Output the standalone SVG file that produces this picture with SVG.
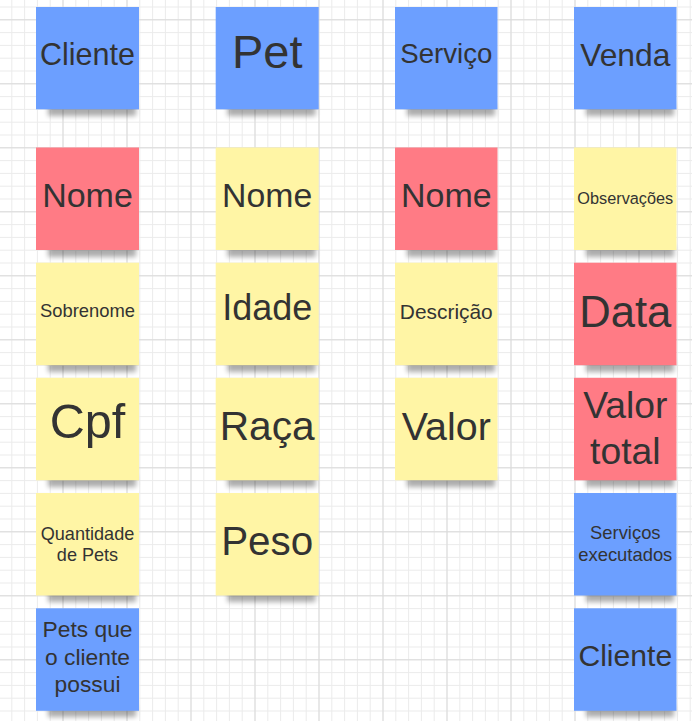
<svg xmlns="http://www.w3.org/2000/svg" width="692" height="721" viewBox="0 0 692 721">
<style>
.blue{fill:#6c9fff}
.red{fill:#ff7b85}
.yel{fill:#fff5a5}
.sh{fill:#000;opacity:0.32;filter:url(#blur)}
text{font-family:"Liberation Sans",Arial,sans-serif;fill:#333333;text-anchor:middle}
</style>
<defs>
<pattern id="minor" x="-1.5" y="6.5" width="12.8" height="12.8" patternUnits="userSpaceOnUse">
<path d="M0.5 0V12.8M0 0.5H12.8" stroke="#ebebeb" stroke-width="1" fill="none"/>
</pattern>
<pattern id="major" x="-1.5" y="19.3" width="64" height="64" patternUnits="userSpaceOnUse">
<path d="M0.5 0V64M0 0.5H64" stroke="#dadada" stroke-width="1" fill="none"/>
</pattern>
<filter id="blur" x="-20%" y="-50%" width="140%" height="200%"><feGaussianBlur stdDeviation="2.6"/></filter>
</defs>
<rect width="692" height="721" fill="#ffffff"/>
<rect width="692" height="721" fill="url(#minor)"/>
<rect width="692" height="721" fill="url(#major)"/>

<!-- Column 1 -->
<g id="cliente-header"><rect class="sh" x="48" y="104" width="88" height="12"/><rect class="blue" x="36" y="7" width="103" height="102.3"/><text x="87.5" y="65" font-size="30.5">Cliente</text></g>
<g id="cliente-nome"><rect class="sh" x="48" y="245" width="88" height="12"/><rect class="red" x="36" y="147.5" width="103" height="102.5"/><text x="87.5" y="207" font-size="34">Nome</text></g>
<g id="cliente-sobrenome"><rect class="sh" x="48" y="360" width="88" height="12"/><rect class="yel" x="36" y="262.7" width="103" height="102.5"/><text x="87.5" y="317" font-size="18.4">Sobrenome</text></g>
<g id="cliente-cpf"><rect class="sh" x="48" y="475" width="88" height="12"/><rect class="yel" x="36" y="377.8" width="103" height="102.5"/><text x="87.5" y="438" font-size="48.5">Cpf</text></g>
<g id="cliente-qtd"><rect class="sh" x="48" y="590" width="88" height="12"/><rect class="yel" x="36" y="493" width="103" height="102.5"/><text x="87.5" y="540" font-size="18.1">Quantidade</text><text x="87.5" y="561" font-size="18.1">de Pets</text></g>
<g id="cliente-pets"><rect class="sh" x="48" y="705" width="88" height="12"/><rect class="blue" x="36" y="608.3" width="103" height="102.5"/><text x="87.5" y="637" font-size="22.8">Pets que</text><text x="87.5" y="665" font-size="22.8">o cliente</text><text x="87.5" y="692" font-size="22.8">possui</text></g>

<!-- Column 2 -->
<g id="pet-header"><rect class="sh" x="227.5" y="104" width="88" height="12"/><rect class="blue" x="215.7" y="7" width="103" height="102.3"/><text x="267.2" y="68" font-size="47">Pet</text></g>
<g id="pet-nome"><rect class="sh" x="227.5" y="245" width="88" height="12"/><rect class="yel" x="215.7" y="147.5" width="103" height="102.5"/><text x="267.2" y="207" font-size="33.8">Nome</text></g>
<g id="pet-idade"><rect class="sh" x="227.5" y="360" width="88" height="12"/><rect class="yel" x="215.7" y="262.7" width="103" height="102.5"/><text x="267.2" y="320" font-size="36">Idade</text></g>
<g id="pet-raca"><rect class="sh" x="227.5" y="475" width="88" height="12"/><rect class="yel" x="215.7" y="377.8" width="103" height="102.5"/><text x="267.2" y="440" font-size="40.7">Raça</text></g>
<g id="pet-peso"><rect class="sh" x="227.5" y="590" width="88" height="12"/><rect class="yel" x="215.7" y="493" width="103" height="102.5"/><text x="267.2" y="555" font-size="40.4">Peso</text></g>

<!-- Column 3 -->
<g id="servico-header"><rect class="sh" x="407" y="104" width="88" height="12"/><rect class="blue" x="395" y="7" width="102.5" height="102.3"/><text x="446.3" y="62.5" font-size="27.6">Serviço</text></g>
<g id="servico-nome"><rect class="sh" x="407" y="245" width="88" height="12"/><rect class="red" x="395" y="147.5" width="102.5" height="102.5"/><text x="446.3" y="207" font-size="34">Nome</text></g>
<g id="servico-descricao"><rect class="sh" x="407" y="360" width="88" height="12"/><rect class="yel" x="395" y="262.7" width="102.5" height="102.5"/><text x="446.3" y="319" font-size="20.9">Descrição</text></g>
<g id="servico-valor"><rect class="sh" x="407" y="475" width="88" height="12"/><rect class="yel" x="395" y="377.8" width="102.5" height="102.5"/><text x="446.3" y="440" font-size="39.4">Valor</text></g>

<!-- Column 4 -->
<g id="venda-header"><rect class="sh" x="586" y="104" width="88" height="12"/><rect class="blue" x="574" y="7" width="102.5" height="102.3"/><text x="625.3" y="66" font-size="31.8">Venda</text></g>
<g id="venda-obs"><rect class="sh" x="586" y="245" width="88" height="12"/><rect class="yel" x="574" y="147.5" width="102.5" height="102.5"/><text x="625.3" y="203.5" font-size="16.3">Observações</text></g>
<g id="venda-data"><rect class="sh" x="586" y="360" width="88" height="12"/><rect class="red" x="574" y="262.7" width="102.5" height="102.5"/><text x="625.3" y="327" font-size="43.6">Data</text></g>
<g id="venda-valor-total"><rect class="sh" x="586" y="475" width="88" height="12"/><rect class="red" x="574" y="377.8" width="102.5" height="102.5"/><text x="625.3" y="417.5" font-size="37.3">Valor</text><text x="625.3" y="463.5" font-size="37.3">total</text></g>
<g id="venda-servicos"><rect class="sh" x="586" y="590" width="88" height="12"/><rect class="blue" x="574" y="493" width="102.5" height="102.5"/><text x="625.3" y="539" font-size="18.4">Serviços</text><text x="625.3" y="561" font-size="18.4">executados</text></g>
<g id="venda-cliente"><rect class="sh" x="586" y="705" width="88" height="12"/><rect class="blue" x="574" y="608.3" width="102.5" height="102.5"/><text x="625.3" y="666" font-size="30.1">Cliente</text></g>
</svg>
